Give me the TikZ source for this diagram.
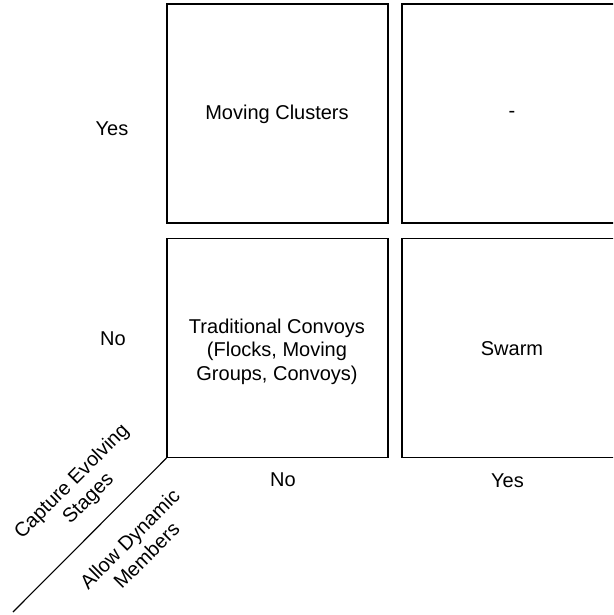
\documentclass[tikz,border=0pt]{standalone}
\usepackage{fontspec}
\setmainfont{Liberation Sans}
\begin{document}
\begin{tikzpicture}[x=1pt,y=-1pt,
  cell/.style={draw=black, line width=1.1pt, minimum width=221pt, minimum height=219pt, inner sep=0pt},
  lbl/.style={font=\fontsize{20}{23.5}\selectfont, align=center, inner sep=0pt},
  axis/.style={draw=black, line width=1.1pt}]
\useasboundingbox (0,0) rectangle (613,615);
\clip (0,0) rectangle (613,615);
% grid of cells
\node[cell] (c11) at (277.5,113.5) {};
\node[cell] (c12) at (512.5,113.5) {};
\node[cell] (c21) at (277.5,348) {};
\node[cell] (c22) at (512.5,348) {};
% cell texts
\node[lbl] (t11) at (277,114.5) {Moving Clusters};
\node[lbl] (t12) at (512,114) {-};
\node[lbl] (t21) at (277,351.5) {Traditional Convoys\\(Flocks, Moving\\Groups, Convoys)};
\node[lbl] (t22) at (512,348.5) {Swarm};
% row and column labels
\node[lbl] (ryes) at (112,128.5) {Yes};
\node[lbl] (rno) at (113,339) {No};
\node[lbl] (cno) at (283,480) {No};
\node[lbl] (cyes) at (507.5,480.5) {Yes};
% diagonal corner divider
\coordinate (dend) at (13,612);
\draw[axis] (c21.south west) -- (dend);
\node[lbl, rotate=45] (cap) at (80.5,490.5) {Capture Evolving\\Stages};
\node[lbl, rotate=45] (dyn) at (138,547) {Allow Dynamic\\Members};
\end{tikzpicture}
\end{document}
